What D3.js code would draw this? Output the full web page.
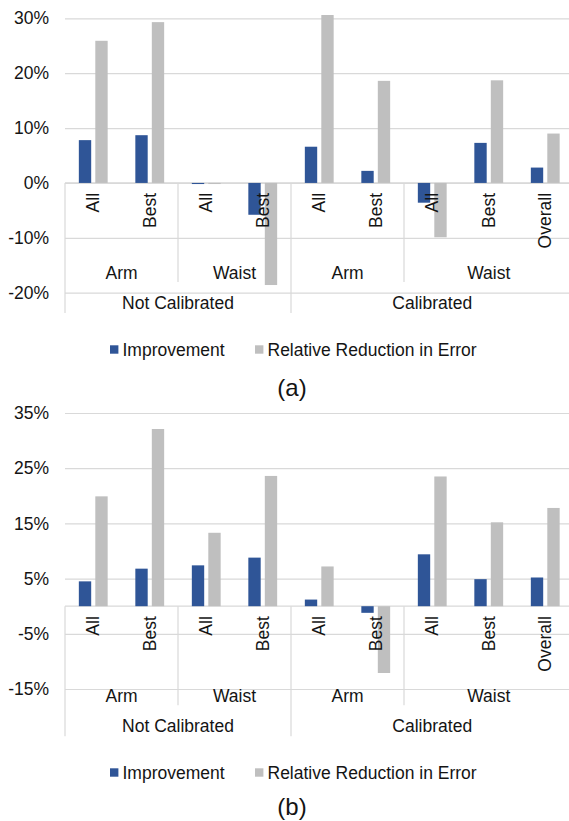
<!DOCTYPE html>
<html>
<head>
<meta charset="utf-8">
<script src="https://cdn.jsdelivr.net/npm/d3@7"></script>
<style>
  html, body { margin: 0; padding: 0; background: #fff; }
  svg { display: block; font-family: "Liberation Sans", Arial, sans-serif; }
</style>
</head>
<body>
<svg id="chart" width="569" height="821"></svg>
<script>
// Category hierarchy (outer -> inner)
const calibration = ["Not Calibrated", "Not Calibrated", "Not Calibrated", "Not Calibrated",
                     "Calibrated", "Calibrated", "Calibrated", "Calibrated", "Calibrated"];
const placement = ["Arm", "Arm", "Waist", "Waist", "Arm", "Arm", "Waist", "Waist", "Waist"];
const subset = ["All", "Best", "All", "Best", "All", "Best", "All", "Best", "Overall"];

const seriesNames = ["Improvement", "Relative Reduction in Error"];

// Panel (a)
const improvementA = [7.8, 8.7, -0.2, -5.8, 6.6, 2.2, -3.6, 7.3, 2.8];
const reductionA = [25.9, 29.3, -0.2, -18.6, 30.6, 18.6, -9.9, 18.7, 9.0];
const ticksA = [-20, -10, 0, 10, 20, 30];

// Panel (b)
const improvementB = [4.5, 6.8, 7.4, 8.8, 1.2, -1.2, 9.4, 4.9, 5.2];
const reductionB = [19.9, 32.1, 13.3, 23.6, 7.2, -12.1, 23.5, 15.2, 17.8];
const ticksB = [-15, -5, 5, 15, 25, 35];

const colors = ["#2F5597", "#BFBFBF"];
const gridColor = "#D9D9D9";
const textColor = "#141414";
const fontSize = 17.5;

const svg = d3.select("#chart");
const idx = d3.range(subset.length);

// Shared horizontal layout
const left = 65, plotRight = 573.5;
const x0 = d3.scaleBand().domain(idx).range([left, plotRight]).padding(0);
const x1 = d3.scaleBand().domain(seriesNames).range([0, x0.bandwidth()])
  .paddingInner(0.25).paddingOuter(0.84);

// Spans of consecutive equal labels
function spans(labels) {
  const out = [];
  labels.forEach((l, i) => {
    if (out.length && out[out.length - 1].label === l && (labels === placement ? calibration[i] === calibration[out[out.length - 1].start] : true)) {
      out[out.length - 1].end = i;
    } else out.push({ label: l, start: i, end: i });
  });
  return out;
}

function drawPanel(cfg) {
  const g = svg.append("g");
  const y = d3.scaleLinear().domain(cfg.domain).range(cfg.range);
  const zero = y(0);

  // Value axis with gridlines
  const axis = d3.axisLeft(y)
    .tickValues(cfg.ticks)
    .tickFormat(d => d + "%")
    .tickSize(-(plotRight - left))
    .tickPadding(16);
  const ag = g.append("g").attr("transform", `translate(${left},0)`).call(axis);
  ag.select(".domain").remove();
  ag.selectAll(".tick line").attr("stroke", gridColor).attr("stroke-width", 1.2);
  ag.selectAll(".tick text")
    .attr("fill", textColor)
    .style("font-size", fontSize + "px")
    .style("font-family", '"Liberation Sans", Arial, sans-serif');

  // Zero line (category axis)
  g.append("line")
    .attr("x1", left).attr("x2", plotRight)
    .attr("y1", zero).attr("y2", zero)
    .attr("stroke", gridColor).attr("stroke-width", 1.2);

  // Bars
  const rows = idx.map(i => ({ i, vals: [cfg.improvement[i], cfg.reduction[i]] }));
  const cat = g.append("g").selectAll("g").data(rows).join("g")
    .attr("transform", d => `translate(${x0(d.i)},0)`);
  cat.selectAll("rect")
    .data(d => d.vals.map((v, k) => ({ v, name: seriesNames[k], k })))
    .join("rect")
    .attr("x", d => x1(d.name))
    .attr("width", x1.bandwidth())
    .attr("y", d => Math.min(y(d.v), zero))
    .attr("height", d => Math.abs(y(d.v) - zero))
    .attr("fill", d => colors[d.k]);

  // Category separators
  const sep = g.append("g").attr("stroke", gridColor).attr("stroke-width", 1.2);
  const calSpans = spans(calibration);
  const placeSpans = spans(placement);
  const outerEdges = new Set();
  calSpans.forEach(s => { outerEdges.add(s.start); });
  calSpans.forEach(s => {
    const xs = x0(s.start);
    sep.append("line").attr("x1", xs).attr("x2", xs).attr("y1", zero).attr("y2", zero + 130);
  });
  sep.append("line").attr("x1", plotRight).attr("x2", plotRight).attr("y1", zero).attr("y2", zero + 130);
  placeSpans.forEach(s => {
    if (outerEdges.has(s.start)) return;
    const xs = x0(s.start);
    sep.append("line").attr("x1", xs).attr("x2", xs).attr("y1", zero).attr("y2", zero + 99);
  });

  const labels = g.append("g").attr("fill", textColor).style("font-size", fontSize + "px");

  // Inner level: rotated subset labels
  labels.selectAll("text.sub").data(idx).join("text")
    .attr("class", "sub")
    .attr("transform", i => `translate(${x0(i) + x0.bandwidth() / 2},${zero + 10}) rotate(-90)`)
    .attr("text-anchor", "end")
    .attr("dy", "0.35em")
    .text(i => subset[i]);

  // Middle level: placement
  labels.selectAll("text.place").data(placeSpans).join("text")
    .attr("class", "place")
    .attr("x", s => (x0(s.start) + x0(s.end) + x0.bandwidth()) / 2)
    .attr("y", zero + 89.5)
    .attr("dy", "0.35em")
    .attr("text-anchor", "middle")
    .text(s => s.label);

  // Outer level: calibration
  labels.selectAll("text.cal").data(calSpans).join("text")
    .attr("class", "cal")
    .attr("x", s => (x0(s.start) + x0(s.end) + x0.bandwidth()) / 2)
    .attr("y", zero + 120)
    .attr("dy", "0.35em")
    .attr("text-anchor", "middle")
    .text(s => s.label);

  // Legend
  const lg = g.append("g").attr("transform", `translate(0,${cfg.legendY})`);
  const legendX = [110, 255];
  seriesNames.forEach((name, k) => {
    lg.append("rect")
      .attr("x", legendX[k]).attr("y", -4.2)
      .attr("width", 8.4).attr("height", 8.4)
      .attr("fill", colors[k]);
    lg.append("text")
      .attr("x", legendX[k] + 12.5).attr("y", 0)
      .attr("dy", "0.35em")
      .attr("fill", textColor)
      .style("font-size", fontSize + "px")
      .text(name);
  });

  // Panel caption
  g.append("text")
    .attr("x", 292).attr("y", cfg.captionY)
    .attr("dy", "0.35em")
    .attr("text-anchor", "middle")
    .attr("fill", textColor)
    .style("font-size", "24px")
    .text(cfg.caption);
}

drawPanel({
  improvement: improvementA, reduction: reductionA, ticks: ticksA,
  domain: [-20, 30], range: [292.7, 18.3],
  legendY: 349.5, caption: "(a)", captionY: 387.5
});

drawPanel({
  improvement: improvementB, reduction: reductionB, ticks: ticksB,
  domain: [-15, 35], range: [689, 413],
  legendY: 772.5, caption: "(b)", captionY: 806.5
});
</script>
</body>
</html>
